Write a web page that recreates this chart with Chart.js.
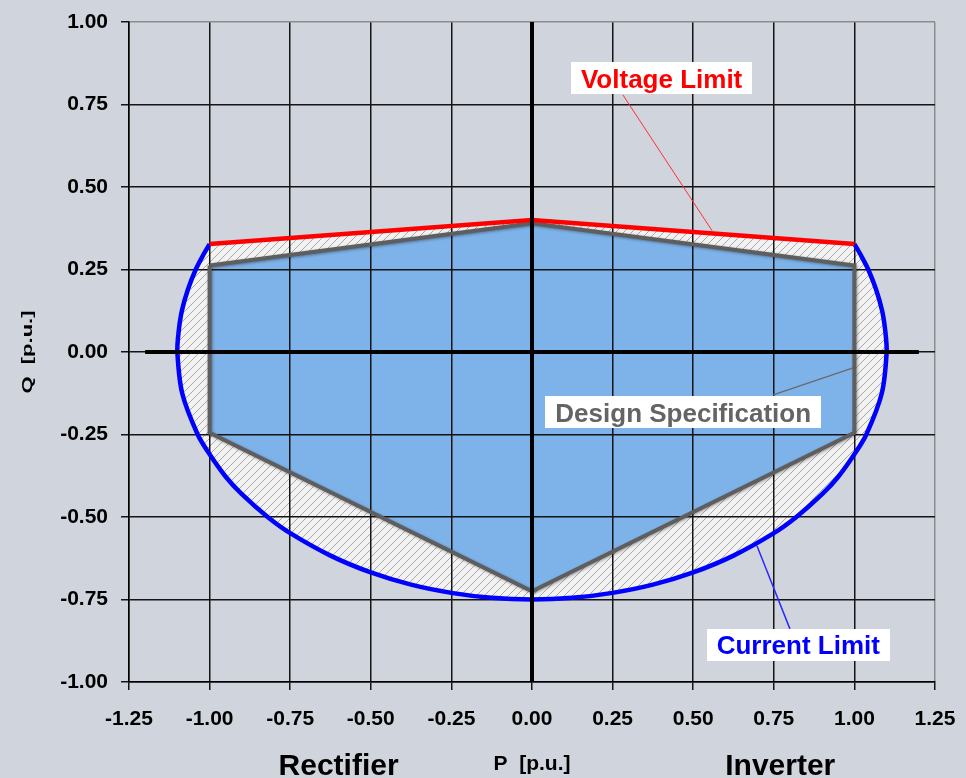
<!DOCTYPE html>
<html>
<head>
<meta charset="utf-8">
<title>P-Q Capability Chart</title>
<script src="https://cdn.jsdelivr.net/npm/chart.js@4.4.1/dist/chart.umd.min.js"></script>
<style>
  html, body { margin: 0; padding: 0; background: #d0d4dc; }
  #wrap { width: 966px; height: 778px; position: relative; }
  canvas { display: block; }
</style>
</head>
<body>
<div id="wrap"><canvas id="pq" width="966" height="778"></canvas></div>
<script>
// Tick positions (p.u.)
const pTicks = [-1.25, -1.00, -0.75, -0.50, -0.25, 0.00, 0.25, 0.50, 0.75, 1.00, 1.25];
const qTicks = [-1.00, -0.75, -0.50, -0.25, 0.00, 0.25, 0.50, 0.75, 1.00];

// Voltage limit: upper edge of the operating range
const voltageP = [-1.00, 0.00, 1.00];
const voltageQ = [0.327, 0.400, 0.327];

// Current limit: from the upper-left corner, round the bottom, to the upper-right corner
const currentP = [-1.000, -1.022, -1.043, -1.067, -1.086, -1.096, -1.100, -1.085, -1.037, -1.000, -0.950, -0.900,
                  -0.820, -0.750, -0.625, -0.500, -0.375, -0.250, -0.125,  0.000,  0.125,  0.250,  0.375,  0.500,
                   0.625,  0.750,  0.820,  0.900,  0.950,  1.000,  1.037,  1.085,  1.100,  1.096,  1.086,  1.067,
                   1.043,  1.022,  1.000];
const currentQ = [ 0.327,  0.290,  0.250,  0.190,  0.125,  0.062,  0.000, -0.125, -0.250, -0.310, -0.378, -0.431,
                  -0.500, -0.549, -0.617, -0.668, -0.705, -0.730, -0.745, -0.750, -0.745, -0.730, -0.705, -0.668,
                  -0.617, -0.549, -0.500, -0.431, -0.378, -0.310, -0.250, -0.125,  0.000,  0.062,  0.125,  0.190,
                   0.250,  0.290,  0.327];

// Design specification polygon (closed)
const specP = [-1.00, 0.00, 1.00,  1.00,  0.00, -1.00, -1.00];
const specQ = [0.262, 0.390, 0.262, -0.245, -0.725, -0.245, 0.262];

// Main axes through the origin
const axisP = [-1.20, 1.20];
const axisQ = [-1.00, 1.00];

const toPts = (xs, ys) => xs.map((x, i) => ({ x: x, y: ys[i] }));
const byX = (a, b) => a.x - b.x;

const voltagePts = toPts(voltageP, voltageQ);
const currentPts = toPts(currentP, currentQ);
const specPts = toPts(specP, specQ);

// Upper / lower edges of the permissible region and of the specification, for area filling
const envUpper = currentPts.filter(p => p.y >= 0).concat(voltagePts).sort(byX);
const envLower = currentPts.filter(p => p.y <= 0).sort(byX);
const specUpper = specPts.filter(p => p.y >= 0).sort(byX);
const specLower = specPts.filter(p => p.y < 0).sort(byX);

// Diagonal hatching for the margin between the limits and the specification
function makeHatch() {
  const c = document.createElement('canvas');
  c.width = 8; c.height = 8;
  const g = c.getContext('2d');
  g.fillStyle = '#f2f2f3';
  g.fillRect(0, 0, 8, 8);
  g.strokeStyle = '#a8a8a8';
  g.lineWidth = 1;
  g.beginPath();
  g.moveTo(-1, 9); g.lineTo(9, -1);
  g.moveTo(-1, 1); g.lineTo(1, -1);
  g.moveTo(7, 9); g.lineTo(9, 7);
  g.stroke();
  return g.createPattern(c, 'repeat');
}

const FONT = '"Liberation Sans", Arial, Helvetica, sans-serif';

// Soft shadow under the specification outline
const outlineShadow = {
  id: 'outlineShadow',
  beforeDatasetDraw(chart, args) {
    if (args.index === 4) {
      const c = chart.ctx;
      c.save();
      c.shadowColor = 'rgba(0,0,0,0.35)';
      c.shadowBlur = 3;
      c.shadowOffsetX = 1;
      c.shadowOffsetY = 1;
    }
  },
  afterDatasetDraw(chart, args) {
    if (args.index === 4) chart.ctx.restore();
  }
};

// Callout labels with leader lines, placed in data coordinates
const callouts = [
  { text: 'Voltage Limit', color: '#ff0000', lineColor: '#ff3030', lineWidth: 1, at: [0.402, 0.829], from: [0.282, 0.779], to: [0.561, 0.364] },
  { text: 'Design Specification', color: '#646464', lineColor: '#6a6a6a', lineWidth: 1.5, at: [0.469, -0.183], from: [0.748, -0.130], to: [0.996, -0.048] },
  { text: 'Current Limit', color: '#0000ff', lineColor: '#2a2aff', lineWidth: 1.5, at: [0.826, -0.888], from: [0.800, -0.839], to: [0.698, -0.588] }
];

const annotations = {
  id: 'annotations',
  afterDraw(chart) {
    const ctx = chart.ctx;
    const xs = chart.scales.x, ys = chart.scales.y;
    const px = v => xs.getPixelForValue(v);
    const py = v => ys.getPixelForValue(v);
    ctx.save();
    callouts.forEach(c => {
      ctx.beginPath();
      ctx.strokeStyle = c.lineColor;
      ctx.lineWidth = c.lineWidth;
      ctx.moveTo(px(c.from[0]), py(c.from[1]));
      ctx.lineTo(px(c.to[0]), py(c.to[1]));
      ctx.stroke();

      ctx.font = 'bold 26px ' + FONT;
      const w = ctx.measureText(c.text).width + 20;
      const h = 32;
      const cx = px(c.at[0]), cy = py(c.at[1]);
      ctx.fillStyle = '#ffffff';
      ctx.fillRect(Math.round(cx - w / 2), Math.round(cy - h / 2), Math.round(w), h);
      ctx.fillStyle = c.color;
      ctx.textAlign = 'center';
      ctx.textBaseline = 'alphabetic';
      ctx.fillText(c.text, cx, cy + 9.3);
    });

    // Axis captions
    ctx.fillStyle = '#000000';
    ctx.textAlign = 'center';
    ctx.textBaseline = 'alphabetic';
    ctx.font = 'bold 30px ' + FONT;
    ctx.fillText('Rectifier', px(-0.60), 775);
    ctx.fillText('Inverter', px(0.77), 775);
    ctx.font = 'bold 21px ' + FONT;
    ctx.fillText('P  [p.u.]', px(0), 770);

    ctx.translate(32, py(0));
    ctx.rotate(-Math.PI / 2);
    ctx.scale(1, 0.68);
    ctx.font = 'bold 22px ' + FONT;
    ctx.fillText('Q  [p.u.]', 0, 0);
    ctx.restore();
  }
};

const gridBlack = '#141414';
const gridGrey = '#8c8c8c';

new Chart(document.getElementById('pq'), {
  type: 'scatter',
  data: {
    datasets: [
      { label: 'P axis', data: toPts(axisP, [0, 0]), showLine: true, borderColor: '#000000', borderWidth: 4, pointRadius: 0, fill: false },
      { label: 'Q axis', data: toPts([0, 0], axisQ), showLine: true, borderColor: '#000000', borderWidth: 4, pointRadius: 0, fill: false },
      { label: 'Voltage Limit', data: voltagePts, showLine: true, borderColor: '#ff0000', borderWidth: 4.5, pointRadius: 0, tension: 0, fill: false },
      { label: 'Current Limit', data: currentPts, showLine: true, borderColor: '#0000ff', borderWidth: 4.5, pointRadius: 0, tension: 0.3, fill: false },
      { label: 'Design Specification', data: specPts, showLine: true, borderColor: '#5e5e5e', borderWidth: 4, pointRadius: 0, tension: 0, fill: false, borderJoinStyle: 'miter' },
      { label: 'spec upper', data: specUpper, showLine: true, borderWidth: 0, borderColor: 'transparent', pointRadius: 0, tension: 0, fill: 6, backgroundColor: '#7eb3ea' },
      { label: 'spec lower', data: specLower, showLine: true, borderWidth: 0, borderColor: 'transparent', pointRadius: 0, tension: 0, fill: false },
      { label: 'limit upper', data: envUpper, showLine: true, borderWidth: 0, borderColor: 'transparent', pointRadius: 0, tension: 0, fill: 8, backgroundColor: makeHatch() },
      { label: 'limit lower', data: envLower, showLine: true, borderWidth: 0, borderColor: 'transparent', pointRadius: 0, tension: 0.3, fill: false }
    ]
  },
  options: {
    responsive: false,
    animation: false,
    devicePixelRatio: 1,
    layout: { padding: { top: 22, right: 31, bottom: 0, left: 0 } },
    plugins: {
      legend: { display: false },
      tooltip: { enabled: false },
      filler: { drawTime: 'beforeDraw', propagate: false }
    },
    scales: {
      x: {
        type: 'linear',
        position: 'bottom',
        min: -1.25,
        max: 1.25,
        afterBuildTicks: s => { s.ticks = pTicks.map(v => ({ value: v })); },
        afterFit: s => { s.height = 96; s.paddingLeft = 0; s.paddingRight = 0; },
        ticks: {
          callback: v => Number(v).toFixed(2),
          font: { family: FONT, size: 21, weight: 'bold' },
          color: '#000000',
          padding: 17,
          maxRotation: 0,
          autoSkip: false
        },
        grid: {
          color: c => (c.tick && c.tick.value === 1.25) ? gridGrey : gridBlack,
          lineWidth: 1.5,
          tickLength: 8,
          tickColor: gridBlack,
          drawTicks: true
        },
        border: { display: true, color: '#000000', width: 1.5 }
      },
      y: {
        type: 'linear',
        position: 'left',
        min: -1,
        max: 1,
        afterBuildTicks: s => { s.ticks = qTicks.map(v => ({ value: v })); },
        afterFit: s => { s.width = 129; s.paddingTop = 0; s.paddingBottom = 0; },
        ticks: {
          callback: v => Number(v).toFixed(2),
          font: { family: FONT, size: 21, weight: 'bold' },
          color: '#000000',
          padding: 13,
          autoSkip: false
        },
        grid: {
          color: c => (c.tick && c.tick.value === 1) ? gridGrey : gridBlack,
          lineWidth: 1.5,
          tickLength: 8,
          tickColor: gridBlack,
          drawTicks: true
        },
        border: { display: true, color: '#000000', width: 1.5 }
      }
    }
  },
  plugins: [outlineShadow, annotations]
});
</script>
</body>
</html>
